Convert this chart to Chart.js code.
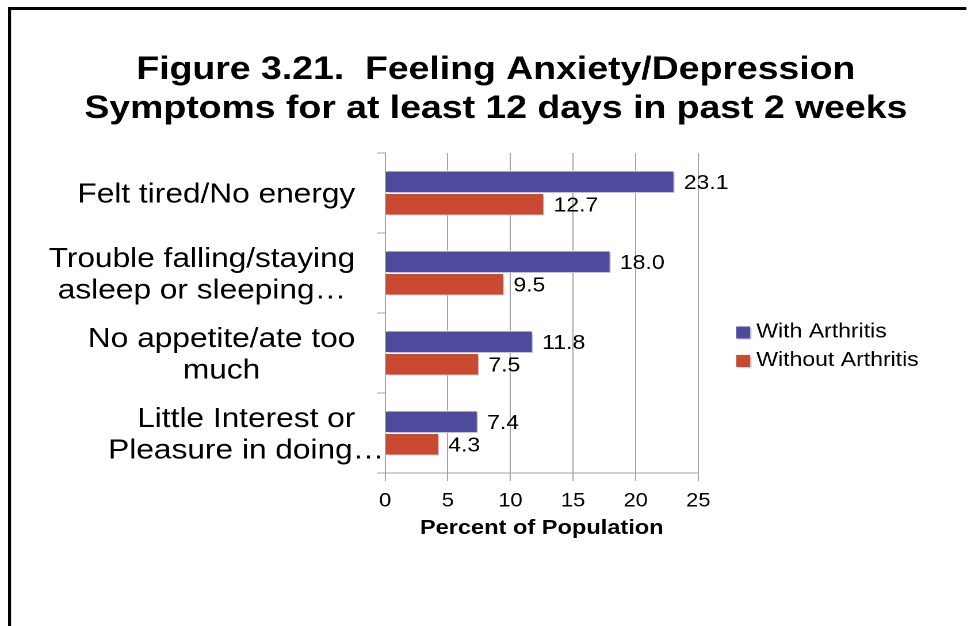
<!DOCTYPE html>
<html>
<head>
<meta charset="utf-8">
<script src="https://cdn.jsdelivr.net/npm/chart.js@4.4.1/dist/chart.umd.min.js"></script>
<style>
  html, body { margin: 0; padding: 0; background: #fff; overflow: hidden; }
  /* the figure is laid out on an 844px-wide canvas and widened to fill 971px */
  #wrap { position: relative; width: 844px; height: 626px; transform: scaleX(1.15047); transform-origin: 0 0; }
</style>
</head>
<body>
<div id="wrap"><canvas id="chart"></canvas></div>
<script>
// ---- data ----
const categories = [
  'Felt tired/No energy',
  ['Trouble falling/staying', 'asleep or sleeping\u2026'],
  ['No appetite/ate too', 'much'],
  ['Little Interest or', 'Pleasure in doing\u2026']
];
const withArthritis = [23.1, 18.0, 11.8, 7.4];
const withoutArthritis = [12.7, 9.5, 7.5, 4.3];
const seriesNames = ['With Arthritis', 'Without Arthritis'];
const titleLines = ['Figure 3.21.  Feeling Anxiety/Depression', 'Symptoms for at least 12 days in past 2 weeks'];
const axisTitle = 'Percent of Population';
const xMin = 0, xMax = 25, xStep = 5;

// ---- styling ----
const FONT = "'Liberation Sans', Arial, Helvetica, sans-serif";
const GRID = '#a3a3a3';
const INK = '#000000';
const Y_TICK_LEN = 7;
const Y_LABEL_GAP = 19;

// white page with the black frame on the left and top edges
const framePlugin = {
  id: 'frame',
  beforeDraw(chart) {
    const ctx = chart.ctx;
    ctx.save();
    ctx.fillStyle = '#ffffff';
    ctx.fillRect(0, 0, chart.width, chart.height);
    ctx.fillStyle = '#000000';
    ctx.fillRect(7, 7, 833, 3);
    ctx.fillRect(7, 7, 2.6, chart.height - 7);
    ctx.restore();
  }
};

// soft drop shadow under the bars
const barShadowPlugin = {
  id: 'barShadow',
  beforeDatasetsDraw(chart) {
    const ctx = chart.ctx;
    const r = chart.currentDevicePixelRatio || 1;
    ctx.save();
    ctx.shadowColor = 'rgba(0,0,0,0.28)';
    ctx.shadowBlur = 2 * r;
    ctx.shadowOffsetX = 1.5 * r;
    ctx.shadowOffsetY = 1.5 * r;
  },
  afterDatasetsDraw(chart) {
    chart.ctx.restore();
  }
};

// value printed just past the end of each bar
const valueLabelPlugin = {
  id: 'valueLabels',
  afterDatasetsDraw(chart) {
    const ctx = chart.ctx;
    ctx.save();
    ctx.font = '20px ' + FONT;
    ctx.fillStyle = INK;
    ctx.textAlign = 'left';
    ctx.textBaseline = 'middle';
    chart.data.datasets.forEach((ds, i) => {
      chart.getDatasetMeta(i).data.forEach((bar, j) => {
        ctx.fillText(ds.data[j].toFixed(1), bar.x + 8, bar.y + 1.5);
      });
    });
    ctx.restore();
  }
};

// category names: each block right-aligned to the gutter, its lines centred under the first one
const categoryLabelPlugin = {
  id: 'categoryLabels',
  afterDraw(chart) {
    const ctx = chart.ctx;
    const s = chart.scales.y;
    const right = s.right - Y_TICK_LEN - Y_LABEL_GAP;
    const lineH = 31.5;
    ctx.save();
    ctx.font = '27.5px ' + FONT;
    ctx.fillStyle = INK;
    ctx.textAlign = 'center';
    ctx.textBaseline = 'middle';
    chart.data.labels.forEach((lbl, i) => {
      const lines = Array.isArray(lbl) ? lbl : [lbl];
      const cx = right - ctx.measureText(lines[0]).width / 2;
      const y0 = s.getPixelForValue(i) + 2 - (lines.length - 1) * lineH / 2;
      lines.forEach((t, k) => ctx.fillText(t, cx, y0 + k * lineH));
    });
    ctx.restore();
  }
};

// series key in the right-hand gutter
const keyPlugin = {
  id: 'seriesKey',
  afterDraw(chart) {
    const ctx = chart.ctx;
    const a = chart.chartArea;
    const r = chart.currentDevicePixelRatio || 1;
    const x = a.right + 33;
    let y = (a.top + a.bottom) / 2 + 19.5;
    ctx.save();
    ctx.font = '20px ' + FONT;
    ctx.textAlign = 'left';
    ctx.textBaseline = 'middle';
    chart.data.datasets.forEach(ds => {
      ctx.save();
      ctx.shadowColor = 'rgba(0,0,0,0.3)';
      ctx.shadowBlur = 1.5 * r;
      ctx.shadowOffsetX = 1 * r;
      ctx.shadowOffsetY = 1 * r;
      ctx.fillStyle = ds.backgroundColor;
      ctx.fillRect(x, y - 6, 12, 12);
      ctx.restore();
      ctx.fillStyle = INK;
      ctx.fillText(ds.label, x + 17.4, y - 0.5);
      y += 28.5;
    });
    ctx.restore();
  }
};

new Chart(document.getElementById('chart'), {
  type: 'bar',
  data: {
    labels: categories,
    datasets: [
      { label: seriesNames[0], data: withArthritis, backgroundColor: '#4f4b9c', borderColor: '#ffffff', borderWidth: 1,
        categoryPercentage: 0.5625, barPercentage: 1.0 },
      { label: seriesNames[1], data: withoutArthritis, backgroundColor: '#c84a33', borderColor: '#ffffff', borderWidth: 1,
        categoryPercentage: 0.5625, barPercentage: 1.0 }
    ]
  },
  options: {
    indexAxis: 'y',
    responsive: true,
    maintainAspectRatio: false,
    animation: false,
    devicePixelRatio: 2,
    layout: { padding: { left: 20, right: 2, top: 10, bottom: 91.3 } },
    plugins: {
      legend: { display: false },
      tooltip: { enabled: false },
      title: {
        display: true,
        text: titleLines,
        color: INK,
        font: { family: FONT, size: 32.5, weight: 'bold', lineHeight: 1.2 },
        padding: { top: 40.5, bottom: 24.5 }
      }
    },
    scales: {
      x: {
        type: 'linear',
        position: 'bottom',
        min: xMin,
        max: xMax,
        ticks: { stepSize: xStep, color: INK, padding: 9.1, font: { family: FONT, size: 19, lineHeight: 1.2 } },
        grid: { color: GRID, lineWidth: 1, tickLength: 8, drawTicks: true },
        border: { display: true, color: GRID, width: 1 },
        title: {
          display: true,
          text: axisTitle,
          color: INK,
          font: { family: FONT, size: 20.5, weight: 'bold', lineHeight: 0.62 },
          padding: { top: 0, bottom: 0 }
        }
      },
      y: {
        type: 'category',
        position: 'left',
        offset: true,
        ticks: { display: false },
        grid: { display: true, offset: true, drawOnChartArea: false, drawTicks: true, tickLength: Y_TICK_LEN, color: GRID, lineWidth: 1 },
        border: { display: true, color: GRID, width: 1 },
        afterFit(s) { s.width = 314.8; }
      },
      keyGutter: {
        type: 'linear',
        position: 'right',
        display: true,
        grid: { display: false },
        border: { display: false },
        ticks: { display: false },
        afterFit(s) { s.width = 235; }
      }
    }
  },
  plugins: [framePlugin, barShadowPlugin, valueLabelPlugin, categoryLabelPlugin, keyPlugin]
});
</script>
</body>
</html>
